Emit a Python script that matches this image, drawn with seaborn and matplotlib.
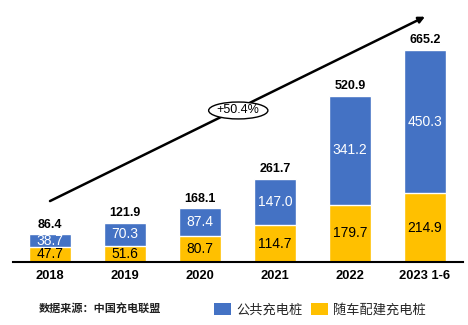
import matplotlib
matplotlib.use("Agg")
import matplotlib.pyplot as plt
from matplotlib.patches import Ellipse, Patch
import seaborn as sns
import pandas as pd

# Charging-pile counts (10k units)
years = ["2018", "2019", "2020", "2021", "2022", "2023 1-6"]
public_piles = [38.7, 70.3, 87.4, 147.0, 341.2, 450.3]
private_piles = [47.7, 51.6, 80.7, 114.7, 179.7, 214.9]
totals = [86.4, 121.9, 168.1, 261.7, 520.9, 665.2]
growth_label = "+50.4%"
series_names = ["公共充电桩", "随车配建充电桩"]
source_note = "数据来源：中国充电联盟"

BLUE = "#4472C4"
YELLOW = "#FFC000"

sns.set_theme(style="white")
plt.rcParams["font.family"] = ["Liberation Sans", "Noto Sans CJK SC", "DejaVu Sans"]

df = pd.DataFrame({"year": years, "public": public_piles,
                   "private": private_piles, "total": totals})

fig = plt.figure(figsize=(4.68, 3.25), dpi=100)
ax = fig.add_axes([12.5 / 468, 63 / 325, 450 / 468, 252 / 325])

# Full stack height in blue, with the private segment overlaid from the base
sns.barplot(data=df, x="year", y="total", color=BLUE, saturation=1,
            width=0.56, ax=ax)
sns.barplot(data=df, x="year", y="private", color=YELLOW, saturation=1,
            width=0.56, ax=ax)

ax.set_xlim(-0.5, 5.5)
ax.set_ylim(0, 790)
ax.set_xlabel("")
ax.set_ylabel("")
ax.set_yticks([])
for side in ["left", "right", "top"]:
    ax.spines[side].set_visible(False)
ax.spines["bottom"].set_color("black")
ax.spines["bottom"].set_linewidth(1.5)
ax.tick_params(axis="x", length=0, pad=6, labelsize=9.3)
for lbl in ax.get_xticklabels():
    lbl.set_fontweight("bold")
    lbl.set_color("black")

for i, (pub, pri, tot) in enumerate(zip(public_piles, private_piles, totals)):
    ax.text(i, tot + 12, f"{tot:.1f}", ha="center", va="bottom",
            fontsize=9, fontweight="bold", color="black")
    ax.text(i, pri + pub / 2, f"{pub:.1f}", ha="center", va="center",
            fontsize=10, color="white")
    ax.text(i, min(pri / 2, 148), f"{pri:.1f}", ha="center", va="center",
            fontsize=10, color="black")

# Growth trend arrow with the CAGR badge
ax.annotate("", xy=(5, 769), xytext=(0, 191),
            arrowprops=dict(arrowstyle="-|>", color="black", lw=1.8,
                            mutation_scale=9, shrinkA=0, shrinkB=0),
            annotation_clip=False)
ax.add_patch(Ellipse((2.51, 475), width=0.79, height=53, facecolor="white",
                     edgecolor="black", lw=1, zorder=5))
ax.text(2.51, 475, growth_label, ha="center", va="center", fontsize=9,
        color="black", zorder=6)

fig.text(39 / 468, 1 - 309 / 325, source_note, ha="left", va="center",
         fontsize=8, fontweight="bold", color="#222222")

handles = [Patch(facecolor=BLUE, edgecolor="none"),
           Patch(facecolor=YELLOW, edgecolor="none")]
fig.legend(handles, series_names, loc="center left",
           bbox_to_anchor=(214 / 468, 1 - 310 / 325), ncol=2, frameon=False,
           fontsize=9.5, handlelength=1.3, handleheight=1.0,
           handletextpad=0.4, columnspacing=0.6, borderpad=0,
           borderaxespad=0)

fig.savefig("out.png", dpi=100)
